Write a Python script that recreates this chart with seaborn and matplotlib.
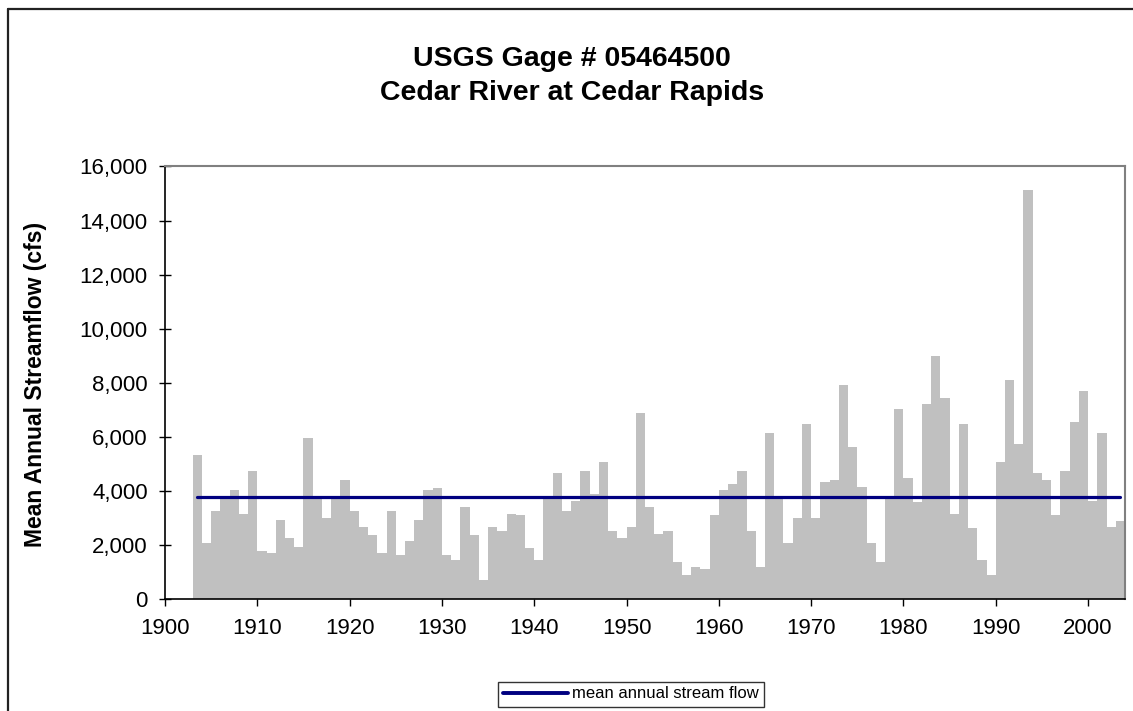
import numpy as np
import pandas as pd
import seaborn as sns
import matplotlib.pyplot as plt
from matplotlib.lines import Line2D
from matplotlib.ticker import FuncFormatter

# water years 1903-2003, mean annual streamflow (cfs)
years = np.arange(1903, 2004)
flow = [
    5310, 2090, 3270, 3710, 4020, 3160, 4720, 1790, 1720, 2940,
    2270, 1940, 5940, 3720, 3010, 3700, 4390, 3270, 2680, 2350,
    1720, 3240, 1640, 2130, 2940, 4020, 4090, 1640, 1460, 3420,
    2350, 720, 2680, 2530, 3160, 3090, 1870, 1460, 3750, 4650,
    3240, 3640, 4720, 3900, 5050, 2530, 2270, 2680, 6870, 3420,
    2420, 2530, 1380, 900, 1200, 1120, 3090, 4020, 4250, 4720,
    2530, 1200, 6130, 3720, 2090, 3010, 6460, 3010, 4310, 4390,
    7910, 5610, 4160, 2090, 1380, 3720, 7020, 4460, 3580, 7200,
    8980, 7420, 3160, 6460, 2610, 1460, 900, 5050, 8090, 5720,
    15130, 4650, 4390, 3090, 4720, 6540, 7680, 3640, 6130, 2680,
    2870,
]
mean_flow = 3780
series_label = "mean annual stream flow"
title_lines = ["USGS Gage # 05464500", "Cedar River at Cedar Rapids"]
ylabel = "Mean Annual Streamflow (cfs)"
xticks = np.arange(1900, 2001, 10)
yticks = np.arange(0, 16001, 2000)

df = pd.DataFrame({"year": years, "flow": flow})
df["center"] = df["year"] + 0.5
df["mean"] = mean_flow

sns.set_style("white")
plt.rcParams["font.family"] = ["Liberation Sans", "DejaVu Sans"]
plt.rcParams["text.color"] = "black"
plt.rcParams["xtick.color"] = "black"
plt.rcParams["ytick.color"] = "black"

fig = plt.figure(figsize=(11.33, 7.11), dpi=100)
ax = fig.add_axes([165 / 1133, 1 - 599 / 711, 960 / 1133, 432.5 / 711])

sns.barplot(data=df, x="center", y="flow", native_scale=True, width=1,
            color="#c0c0c0", saturation=1, linewidth=0, errorbar=None, ax=ax)
sns.lineplot(data=df, x="center", y="mean", color="#000080", linewidth=2.3,
             ax=ax, label=series_label, legend=False)

ax.set_xlim(1900, 2004)
ax.set_ylim(0, 16000)
ax.set_xticks(xticks)
ax.set_yticks(yticks)
ax.yaxis.set_major_formatter(FuncFormatter(lambda v, p: f"{int(v):,}"))
ax.set_xlabel("")
ax.set_ylabel("")
ax.tick_params(axis="y", direction="inout", length=9, width=1, pad=8,
               labelsize=16, left=True, color="black", labelcolor="black")
ax.tick_params(axis="x", direction="out", length=5, width=1, pad=9,
               labelsize=16, bottom=True, color="black", labelcolor="black")
for side in ["left", "bottom"]:
    ax.spines[side].set_color("black")
    ax.spines[side].set_linewidth(1.2)
for side in ["top", "right"]:
    ax.spines[side].set_color("#808080")
    ax.spines[side].set_linewidth(1.5)

fig.text(36 / 1133, 0.46, ylabel, rotation=90, ha="center", va="center",
         fontsize=16.5, fontweight="bold", color="black")
fig.text(572 / 1133, 1 - 66 / 711, title_lines[0], ha="center",
         va="baseline", fontsize=20.5, fontweight="bold", color="black")
fig.text(572 / 1133, 1 - 100 / 711, title_lines[1], ha="center",
         va="baseline", fontsize=20.5, fontweight="bold", color="black")

handle = Line2D([], [], color="#000080", linewidth=2.8)
leg = fig.legend([handle], [series_label], loc="center",
                 bbox_to_anchor=(631 / 1133, 1 - 694 / 711), fontsize=12,
                 frameon=True, fancybox=False, handlelength=3.9,
                 handletextpad=0.25, borderpad=0.3, borderaxespad=0,
                 labelcolor="black")
leg.get_frame().set_edgecolor("black")
leg.get_frame().set_linewidth(1)

# chart area border (top and left edges visible in the original crop)
fig.add_artist(Line2D([7.5 / 1133, 7.5 / 1133], [0, 1 - 9 / 711],
                      transform=fig.transFigure, color="#222222", lw=1.6))
fig.add_artist(Line2D([7.5 / 1133, 1], [1 - 9 / 711, 1 - 9 / 711],
                      transform=fig.transFigure, color="#222222", lw=1.6))

fig.savefig("out.png", dpi=100)
